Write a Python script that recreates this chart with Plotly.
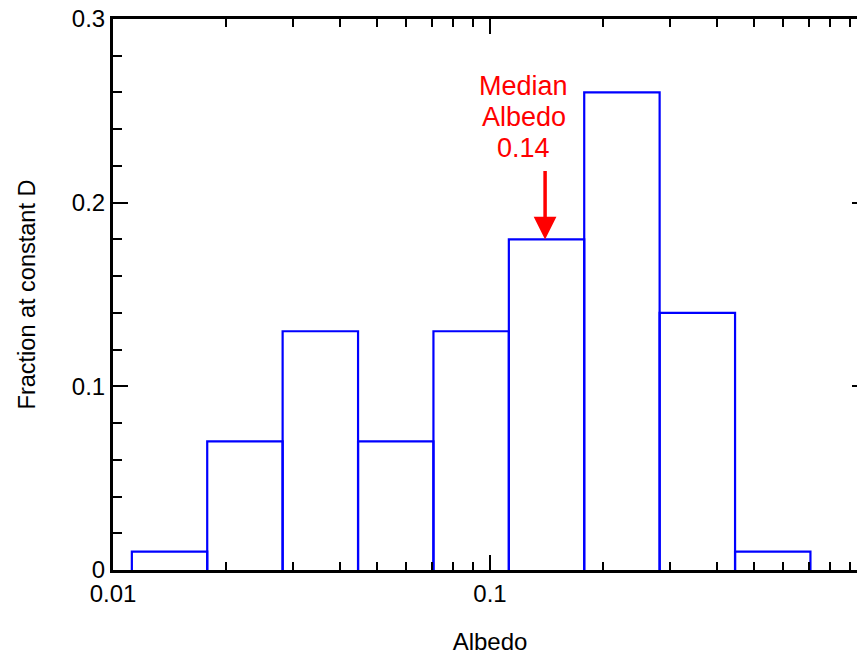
import math
import plotly.graph_objects as go

# Histogram bin edges (albedo) and fractions
bin_edges = [0.01122, 0.01778, 0.02818, 0.04467, 0.07079, 0.1122, 0.1778, 0.2818, 0.4467, 0.7079]
fractions = [0.01, 0.07, 0.13, 0.07, 0.13, 0.18, 0.26, 0.14, 0.01]

median_albedo = 0.14
median_lines = ["Median", "Albedo", "0.14"]

x_tickvals = [0.01, 0.1, 1]
x_ticktext = ["0.01", "0.1", "1"]
y_tickvals = [0, 0.1, 0.2, 0.3]
y_ticktext = ["0", "0.1", "0.2", "0.3"]

FONT = "Liberation Sans, Arial, sans-serif"
BLUE = "#0000FF"

fig = go.Figure()

for i, v in enumerate(fractions):
    lo, hi = bin_edges[i], bin_edges[i + 1]
    fig.add_trace(go.Scatter(
        x=[lo, lo, hi, hi], y=[0, v, v, 0],
        mode="lines", line=dict(color=BLUE, width=2.2),
        showlegend=False, hoverinfo="skip",
    ))

# invisible trace to activate right-side tick axis
fig.add_trace(go.Scatter(
    x=bin_edges[:-1], y=fractions, yaxis="y2", mode="lines",
    line=dict(width=0), opacity=0, showlegend=False, hoverinfo="skip",
))

fig.add_annotation(
    x=math.log10(median_albedo), y=fractions[5], xref="x", yref="y",
    ax=0, ay=-70, showarrow=True, arrowhead=2, arrowsize=1.3,
    arrowwidth=3.5, arrowcolor="#FF0000", text="",
)
for k, line in enumerate(median_lines):
    fig.add_annotation(
        x=math.log10(0.123), y=0.2467, xref="x", yref="y",
        text=line, showarrow=False, yshift=31 * (1 - k),
        font=dict(family=FONT, size=27, color="#FF0000"),
        xanchor="center", yanchor="middle", align="center",
    )

fig.update_layout(
    width=865, height=647,
    margin=dict(l=105, r=6, t=11, b=85, autoexpand=False),
    paper_bgcolor="white", plot_bgcolor="white",
    font=dict(family=FONT, size=24, color="black"),
    xaxis=dict(
        type="log", range=[-2, 0], automargin=False,
        tickvals=x_tickvals, ticktext=x_ticktext, ticklabeloverflow="allow",
        ticks="inside", ticklen=15, tickwidth=2, tickcolor="black",
        showline=True, linewidth=3, linecolor="black", mirror="ticks",
        showgrid=False, zeroline=False,
        minor=dict(dtick="D1", ticks="inside", ticklen=8, tickwidth=2,
                   tickcolor="black", showgrid=False),
        title=dict(text="Albedo", font=dict(size=24), standoff=34),
    ),
    yaxis=dict(
        range=[0, 0.3], automargin=False,
        tickvals=y_tickvals, ticktext=y_ticktext, ticklabeloverflow="allow",
        ticks="inside", ticklen=15, tickwidth=2, tickcolor="black",
        showline=True, linewidth=3, linecolor="black",
        showgrid=False, zeroline=False,
        minor=dict(dtick=0.02, ticks="inside", ticklen=9, tickwidth=2,
                   tickcolor="black", showgrid=False),
        title=dict(text="Fraction at constant D", font=dict(size=23.5), standoff=30),
    ),
    yaxis2=dict(
        overlaying="y", side="right", range=[0, 0.3], automargin=False,
        tickvals=y_tickvals, showticklabels=False,
        ticks="inside", ticklen=15, tickwidth=2, tickcolor="black",
        showline=False, showgrid=False, zeroline=False,
        minor=dict(dtick=0.02, ticks="inside", ticklen=9, tickwidth=2,
                   tickcolor="black", showgrid=False),
    ),
)

fig.write_html("out.html")
